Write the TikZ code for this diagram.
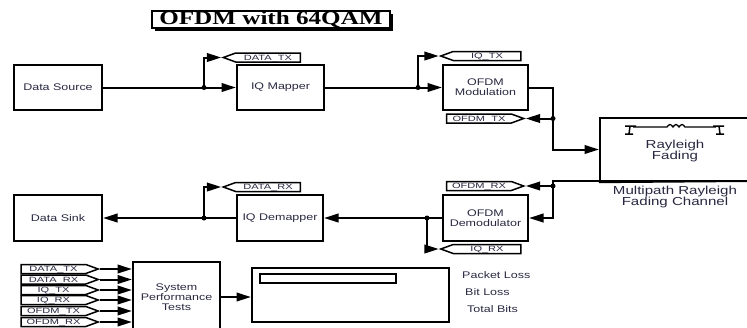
\documentclass[tikz,border=0pt]{standalone}
\usepackage{fontspec}
\setmainfont{Liberation Sans}[FakeStretch=1.3]
\newfontfamily\tagfont{Liberation Sans}[FakeStretch=1.45]
\newfontfamily\titlefont{Liberation Serif}[FakeStretch=1.3]
\usetikzlibrary{arrows.meta,shapes.symbols,shadows}
\definecolor{labelgray}{RGB}{40,40,65}

\begin{document}
\begin{tikzpicture}[x=0.3mm,y=-0.3mm]
\tikzset{
  blockbox/.style={rectangle,draw,line width=0.7mm,minimum width=26.4mm,minimum height=13.5mm,inner sep=1pt,align=center,text=labelgray,font=\fontsize{8.2}{8.8}\selectfont},
  tagleft/.style={signal,signal to=west,draw,line width=0.45mm,minimum width=23.1mm,minimum height=2.7mm,inner sep=0pt,text height=4.8pt,text depth=0.4pt,signal pointer angle=40,text=labelgray,font=\tagfont\fontsize{6.5}{6.5}\selectfont},
  tagright/.style={tagleft,signal to=east},
  wire/.style={line width=0.6mm},
  sigarrow/.style={wire,-{Triangle[length=4.3mm,width=2.6mm]}},
  plaintext/.style={text=labelgray,align=center,inner sep=0pt,font=\fontsize{8.2}{8.8}\selectfont}
}
\useasboundingbox (0,0) rectangle (747,327);
\node[draw,line width=0.75mm,fill=white,drop shadow={shadow xshift=1mm,shadow yshift=-1mm,fill=black,opacity=1},minimum width=71.4mm,minimum height=5.1mm,inner sep=0pt,font=\titlefont\bfseries\fontsize{16.5}{16.5}\selectfont] (n_title) at (271,19.5) {OFDM with 64QAM};
\node[blockbox] (n_src) at (58,87.5) {Data Source};
\node[blockbox,minimum width=26.1mm] (n_map) at (280.5,87.5) {IQ Mapper};
\node[blockbox,minimum width=25.5mm] (n_mod) at (485.5,87.5) {OFDM\\Modulation};
\node[draw,line width=0.7mm,minimum width=72mm,minimum height=18.9mm] (n_chan) at (720,149.5) {};
\node[plaintext,font=\fontsize{9.9}{10.2}\selectfont] (n_rayl) at (675,151) {Rayleigh\\Fading};
\node[plaintext,font=\fontsize{9.9}{9.6}\selectfont] (n_chlabel) at (675,197) {Multipath Rayleigh\\Fading Channel};
\node[blockbox,minimum width=25.5mm,minimum height=13.8mm] (n_demod) at (485.5,218) {OFDM\\Demodulator};
\node[blockbox,minimum width=25.8mm,minimum height=13.8mm] (n_demap) at (280,218) {IQ Demapper};
\node[blockbox,minimum height=13.8mm] (n_sink) at (58,218) {Data Sink};
\node[blockbox,minimum width=26.1mm,minimum height=21mm] (n_spt) at (176.5,297) {System\\Performance\\Tests};
\node[draw,line width=0.7mm,minimum width=59.1mm,minimum height=16.2mm] (n_disp) at (350.5,295) {};
\node[draw,line width=0.5mm,minimum width=40.8mm,minimum height=2.7mm,inner sep=0pt] (n_bar) at (328,278.5) {};
\node[plaintext,anchor=west] (n_pkt) at (462,275) {Packet Loss};
\node[plaintext,anchor=west] (n_bitl) at (465,292) {Bit Loss};
\node[plaintext,anchor=west] (n_totb) at (467,309) {Total Bits};
\node[tagleft] (n_dtx) at (268,57.5) {DATA\_TX};
\node[tagleft,minimum width=24mm] (n_iqtx) at (487,56) {IQ\_TX};
\node[tagright] (n_ofdmtx) at (479,118.5) {OFDM\_TX};
\node[tagright] (n_ofdmrx) at (479,186) {OFDM\_RX};
\node[tagleft,minimum width=24mm] (n_iqrx) at (487,249) {IQ\_RX};
\node[tagleft] (n_drx) at (268,187) {DATA\_RX};
\node[tagright] (n_s1) at (53.5,269) {DATA\_TX};
\node[tagright] (n_s2) at (53.5,279.5) {DATA\_RX};
\node[tagright] (n_s3) at (53.5,290) {IQ\_TX};
\node[tagright] (n_s4) at (53.5,300) {IQ\_RX};
\node[tagright] (n_s5) at (53.5,311) {OFDM\_TX};
\node[tagright] (n_s6) at (53.5,322) {OFDM\_RX};
\coordinate (j_src) at (204,87.5);
\coordinate (j_map) at (418,87.5);
\coordinate (j_mod) at (553,118.5);
\coordinate (c_out) at (747,181);
\coordinate (j_chan) at (553,186);
\coordinate (j_demod) at (427,218);
\coordinate (j_demap) at (204,218);
\draw[wire] (n_chan.south west) -- (c_out);
\draw[line width=0.4mm] (633,127) -- (667,127) sin (670,124.5) cos (673,127) sin (676,124.5) cos (679,127) sin (682,124.5) cos (685,127) -- (716,127);
\draw[line width=0.45mm] (625,126) -- (636,126) (630,126) -- (629,134) (625,134) -- (633,134);
\draw[line width=0.45mm] (713,126) -- (724,126) (719,126) -- (720,134) (716,134) -- (724,134);
\draw[sigarrow] (n_src) -- (n_map);
\draw[sigarrow] (j_src) |- (n_dtx.west);
\draw[sigarrow] (n_map) -- (n_mod);
\draw[sigarrow] (j_map) |- (n_iqtx.west);
\draw[sigarrow] (n_mod.east) -| (j_mod) |- (n_chan.west);
\draw[sigarrow] (j_mod) -- (n_ofdmtx.east);
\draw[sigarrow] (c_out) -| (j_chan) |- (n_demod.east);
\draw[sigarrow] (j_chan) -- (n_ofdmrx.east);
\draw[sigarrow] (n_demod) -- (n_demap);
\draw[sigarrow] (j_demod) |- (n_iqrx.west);
\draw[sigarrow] (n_demap) -- (n_sink);
\draw[sigarrow] (j_demap) |- (n_drx.west);
\draw[sigarrow] (n_s1.east) -- (n_spt.west |- n_s1.east);
\draw[sigarrow] (n_s2.east) -- (n_spt.west |- n_s2.east);
\draw[sigarrow] (n_s3.east) -- (n_spt.west |- n_s3.east);
\draw[sigarrow] (n_s4.east) -- (n_spt.west |- n_s4.east);
\draw[sigarrow] (n_s5.east) -- (n_spt.west |- n_s5.east);
\draw[sigarrow] (n_s6.east) -- (n_spt.west |- n_s6.east);
\draw[sigarrow] (n_spt.east) -- (n_disp.west |- n_spt.east);
\fill (j_src) circle (0.75mm) (j_map) circle (0.75mm) (j_mod) circle (0.75mm) (j_chan) circle (0.75mm) (j_demod) circle (0.75mm) (j_demap) circle (0.75mm);
\end{tikzpicture}
\end{document}
